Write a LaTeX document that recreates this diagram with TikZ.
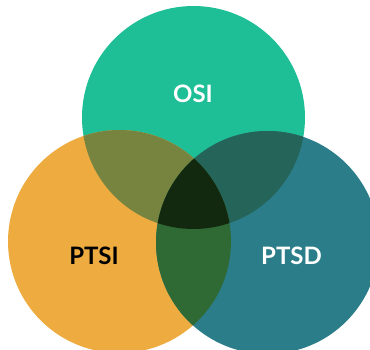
\documentclass[tikz,border=0pt]{standalone}
\usepackage{fontspec}
\setmainfont{Lato}
\begin{document}
\begin{tikzpicture}[x=1pt,y=-1pt,
  setlabel/.style={font=\bfseries\fontsize{24}{24}\selectfont, anchor=base, inner sep=0pt}]
\definecolor{osiC}{HTML}{1EBE96}
\definecolor{ptsiC}{HTML}{EEAB40}
\definecolor{ptsdC}{HTML}{2B7D89}
\definecolor{osiptsiC}{HTML}{768440}
\definecolor{osiptsdC}{HTML}{256458}
\definecolor{ptsiptsdC}{HTML}{2F6934}
\definecolor{allC}{HTML}{13290F}
\useasboundingbox (0,0) rectangle (370,350);
\clip (0,0) rectangle (370,350);
% circle centres
\coordinate (cO) at (193.5,117.5);
\coordinate (cL) at (119.5,241.5);
\coordinate (cR) at (267.5,242.5);
\newcommand\vennrad{111.5pt}
% single sets
\fill[osiC]  (cO) circle[radius=\vennrad];
\fill[ptsiC] (cL) circle[radius=\vennrad];
\fill[ptsdC] (cR) circle[radius=\vennrad];
% pairwise overlaps
\begin{scope}
  \clip (cO) circle[radius=\vennrad];
  \fill[osiptsiC] (cL) circle[radius=\vennrad];
\end{scope}
\begin{scope}
  \clip (cO) circle[radius=\vennrad];
  \fill[osiptsdC] (cR) circle[radius=\vennrad];
\end{scope}
\begin{scope}
  \clip (cL) circle[radius=\vennrad];
  \fill[ptsiptsdC] (cR) circle[radius=\vennrad];
\end{scope}
% triple overlap
\begin{scope}
  \clip (cO) circle[radius=\vennrad];
  \clip (cL) circle[radius=\vennrad];
  \fill[allC] (cR) circle[radius=\vennrad];
\end{scope}
% labels
\node[setlabel, text=white] (osi)  at (193,103) {OSI};
\node[setlabel, text=black] (ptsi) at (94,265)  {PTSI};
\node[setlabel, text=white] (ptsd) at (291.5,265) {PTSD};
\end{tikzpicture}
\end{document}
